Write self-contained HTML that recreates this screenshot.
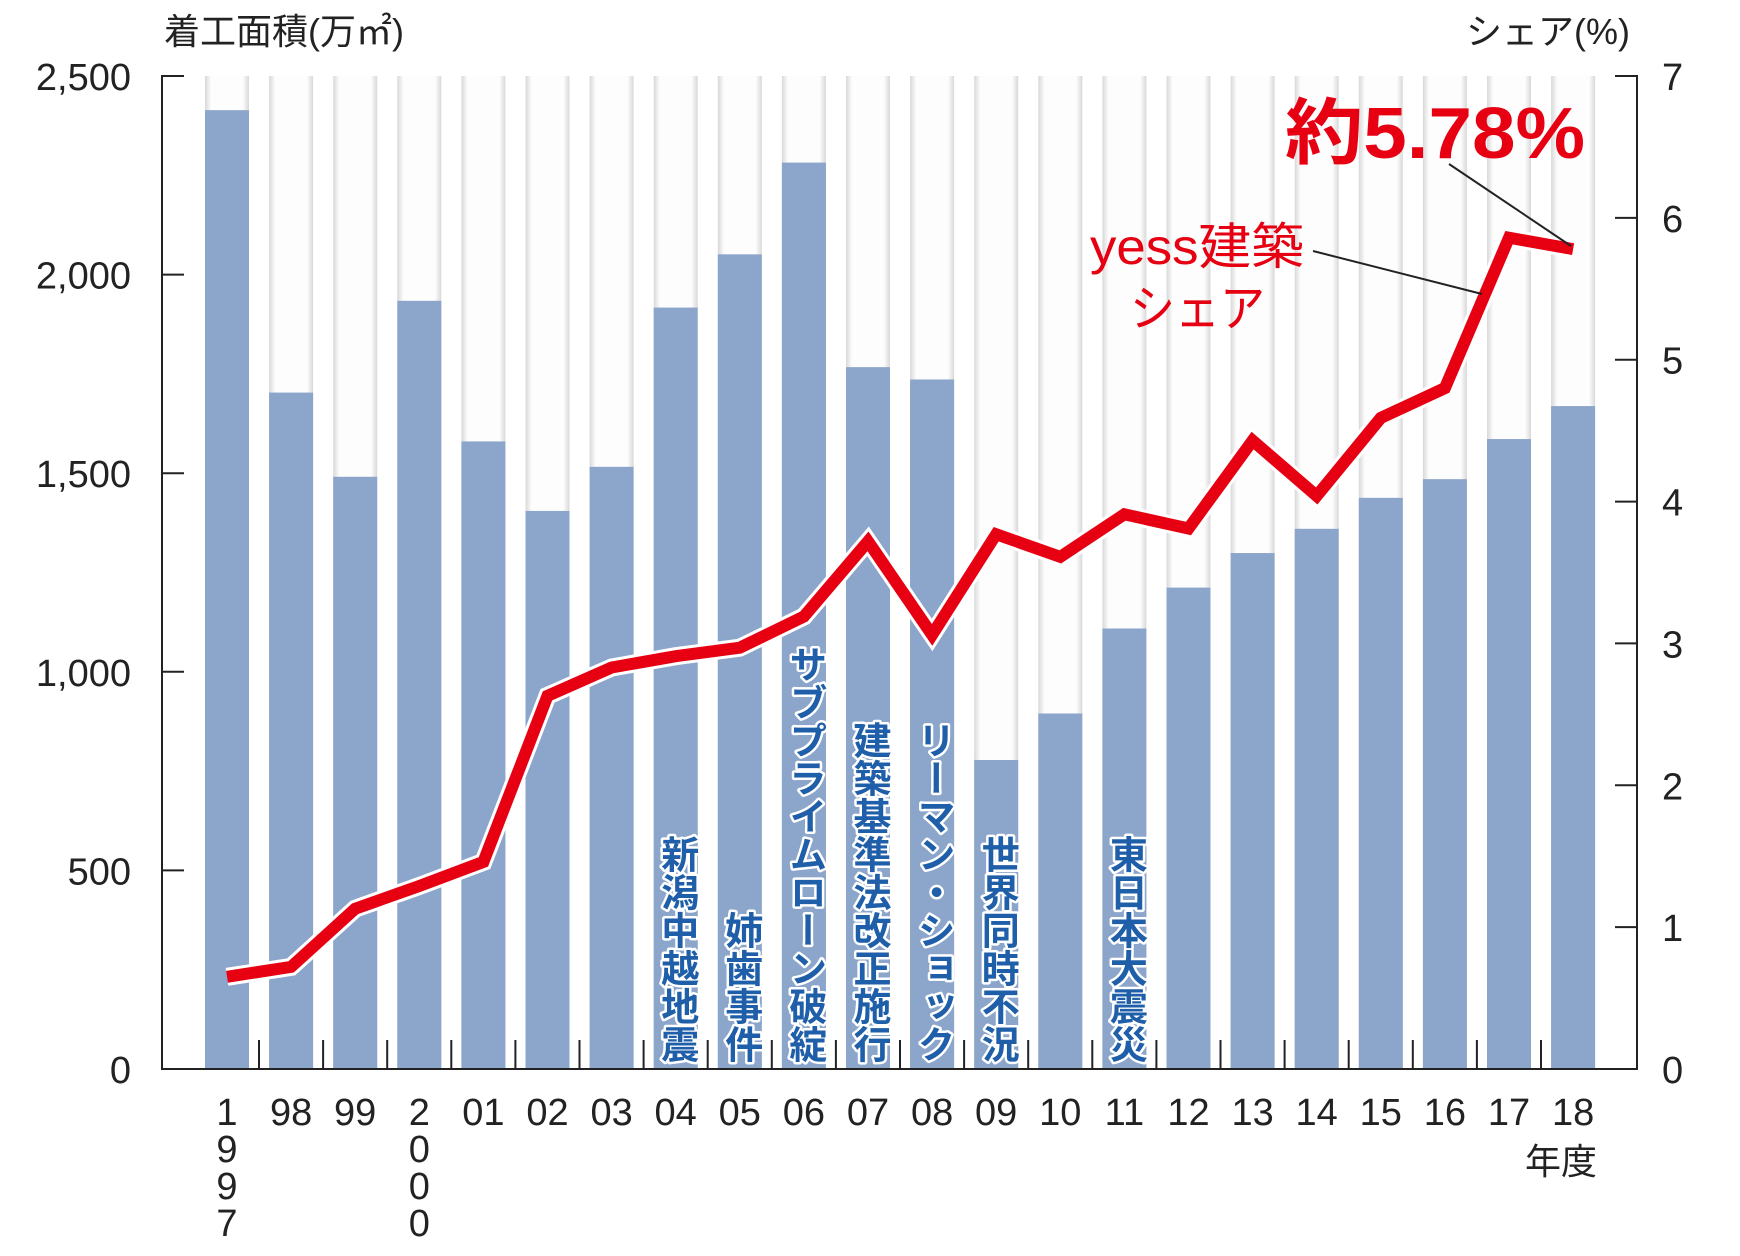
<!DOCTYPE html>
<html><head><meta charset="utf-8"><style>
html,body{margin:0;padding:0;background:#fff;}
svg{display:block;}
text{font-family:"Liberation Sans","Noto Sans CJK JP",sans-serif;}
</style></head><body>
<svg id="s" width="1740" height="1256" viewBox="0 0 1740 1256" xmlns="http://www.w3.org/2000/svg">
<defs>
<linearGradient id="g" x1="0" x2="1" y1="0" y2="0">
<stop offset="0" stop-color="#d8d8d8"/><stop offset="0.14" stop-color="#fdfdfd"/><stop offset="0.86" stop-color="#fdfdfd"/><stop offset="1" stop-color="#d8d8d8"/>
</linearGradient>
</defs>
<g id="bars"></g>
<g id="axes" stroke="#222" stroke-width="2" fill="none">
<polyline points="184,76 162,76 162,1069 1637,1069 1637,76 1615,76"/>
</g>
<g id="ticks" stroke="#222" stroke-width="2"></g>
<g id="lbl" font-size="38" fill="#222"></g>
<g id="ann"></g>
<polyline id="halo" fill="none" stroke="#fff" stroke-width="18" stroke-linejoin="miter"/>
<polyline id="line" fill="none" stroke="#e60012" stroke-width="12" stroke-linejoin="miter"/>
<text x="164" y="44" font-size="36" fill="#222">着工面積(万㎡)</text>
<text x="1630" y="44" font-size="36" fill="#222" text-anchor="end">シェア(%)</text>
<text x="1285" y="158" font-size="72" font-weight="bold" fill="#e60012" textLength="300" lengthAdjust="spacingAndGlyphs">約5.78%</text>
<text x="1090" y="264" font-size="50" fill="#e60012" textLength="214" lengthAdjust="spacingAndGlyphs">yess建築</text>
<text x="1130" y="326" font-size="50" fill="#e60012" textLength="135" lengthAdjust="spacingAndGlyphs">シェア</text>
<line x1="1449" y1="164" x2="1571" y2="246" stroke="#222" stroke-width="2"/>
<line x1="1313" y1="251" x2="1482" y2="294" stroke="#222" stroke-width="2"/>
<text x="1525" y="1174" font-size="36" fill="#222">年度</text>
</svg>
<script>
const NS="http://www.w3.org/2000/svg";
function el(p,t,a,txt){const e=document.createElementNS(NS,t);for(const k in a)e.setAttribute(k,a[k]);if(txt!==undefined)e.textContent=txt;p.appendChild(e);return e;}
const vals=[2414,1703,1491,1934,1580,1405,1516,1917,2051,2282,1767,1736,778,895,1109,1212,1299,1360,1438,1485,1586,1669];
const share=[0.65,0.72,1.13,1.29,1.46,2.63,2.83,2.91,2.97,3.19,3.72,3.06,3.77,3.61,3.91,3.81,4.43,4.04,4.59,4.80,5.86,5.78];
const yrs=["1997","98","99","2000","01","02","03","04","05","06","07","08","09","10","11","12","13","14","15","16","17","18"];
const B=document.getElementById('bars'),T=document.getElementById('ticks'),L=document.getElementById('lbl'),A=document.getElementById('ann');
const y0=1069,H=993;
let pts=[];
for(let i=0;i<22;i++){
 const x=205+64.1*i,c=x+22;
 el(B,'rect',{x:x,y:76,width:44,height:y0-76,fill:'url(#g)'});
 const yb=y0-vals[i]/2500*H;
 el(B,'rect',{x:x,y:yb,width:44,height:y0-yb,fill:'#8ca5cb'});
 if(i<21) el(T,'line',{x1:x+54,y1:1040,x2:x+54,y2:y0});
 const y=yrs[i];
 if(i==0||i==3){for(let k=0;k<4;k++)el(L,'text',{x:c,y:1125+37*k,'text-anchor':'middle'},y[k]);}
 else el(L,'text',{x:c,y:1125,'text-anchor':'middle'},y);
 pts.push(c+','+(y0-share[i]/7*H).toFixed(1));
}
for(let k=0;k<=5;k++){const y=y0-k*500/2500*H;el(T,'line',{x1:162,y1:y,x2:184,y2:y});
 el(L,'text',{x:131,y:y+14,'text-anchor':'end'},k==0?'0':(k*500).toLocaleString('en-US'));}
for(let k=0;k<=7;k++){const y=y0-k/7*H;el(T,'line',{x1:1615,y1:y,x2:1637,y2:y});
 el(L,'text',{x:1662,y:y+14},String(k));}
document.getElementById('halo').setAttribute('points',pts.join(' '));
document.getElementById('line').setAttribute('points',pts.join(' '));
const notes=[[7,"新潟中越地震"],[8,"姉歯事件"],[9,"サブプライムローン破綻"],[10,"建築基準法改正施行"],[11,"リーマン・ショック"],[12,"世界同時不況"],[14,"東日本大震災"]];
for(const [i,s] of notes){
 const c=227+64.1*i;
 el(A,'text',{x:c,y:1063,'font-size':38,'font-weight':'bold',fill:'#1f5ea8',stroke:'#fff','stroke-width':5,'paint-order':'stroke','stroke-linejoin':'round','text-anchor':'end',style:'writing-mode:vertical-rl'},s);
}
</script>
</body></html>
